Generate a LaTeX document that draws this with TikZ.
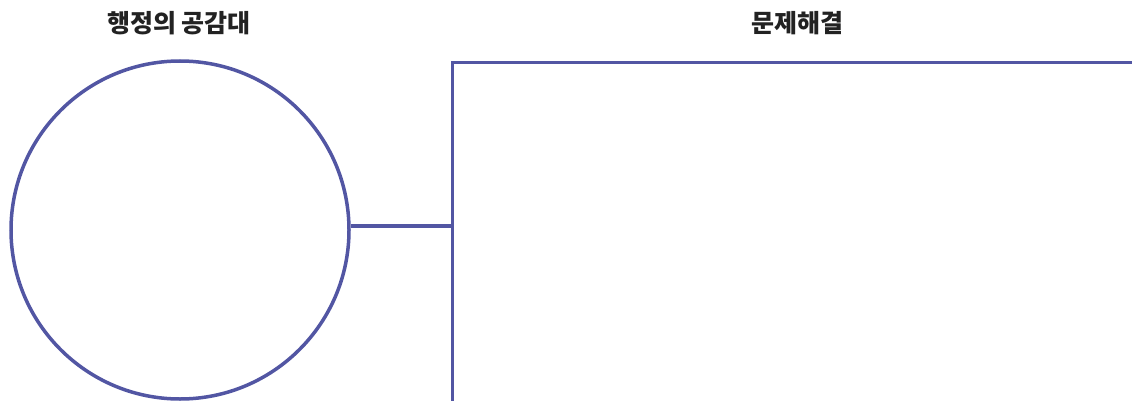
\documentclass[tikz,border=0pt]{standalone}
\usepackage{fontspec}
\newfontfamily\cjk{Noto Sans CJK KR Black}
\definecolor{frame}{HTML}{5256A3}
\definecolor{ink}{HTML}{222222}
\begin{document}
\begin{tikzpicture}[x=1pt,y=-1pt,
  line/.style={draw=frame,line width=3.5pt},
  title/.style={font=\cjk\fontsize{25}{28}\selectfont,text=ink,inner sep=0pt,anchor=center}]
\useasboundingbox (0,0) rectangle (1132,401);
\node[title] (t1) at (179,23) {행정의 공감대};
\node[title] (t2) at (797,23) {문제해결};
\node[circle,line,minimum size=338pt,inner sep=0pt] (c) at (180,230) {};
\coordinate (j) at (452.5,226);
\coordinate (top) at (452.5,62.5);
\coordinate (bot) at (452.5,402);
\coordinate (right) at (1134,62.5);
\draw[line] (c.east |- j) -- (j);
\draw[line] (bot) -- (top) -- (right);
\end{tikzpicture}
\end{document}
